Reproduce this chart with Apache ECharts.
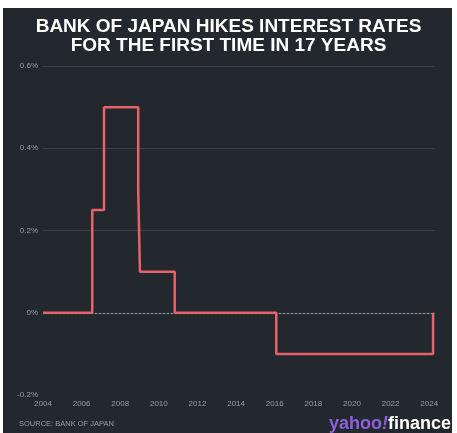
<!DOCTYPE html>
<html><head><meta charset="utf-8">
<script src="https://cdn.jsdelivr.net/npm/echarts@6/dist/echarts.min.js"></script>
<style>html,body{margin:0;padding:0;background:#fff}#c{width:457px;height:433px}</style>
</head><body><div id="c"></div>
<script>
// Rate change dates (decimal years) and new policy rate (%)
const changeDates = [2004.0, 2006.55, 2007.16, 2008.93, 2009.02, 2010.82, 2016.08, 2024.2];
const rates       = [0,      0.25,    0.5,     0.3,     0.1,     0,       -0.1,    0];
const yTicks = [-0.2, 0, 0.2, 0.4, 0.6];
const xTickYears = [2004, 2006, 2008, 2010, 2012, 2014, 2016, 2018, 2020, 2022, 2024];
const titleLines = ['BANK OF JAPAN HIKES INTEREST RATES', 'FOR THE FIRST TIME IN 17 YEARS'];
const sourceText = 'SOURCE: BANK OF JAPAN';

const data = changeDates.map((d, i) => [d, rates[i]]);
const chart = echarts.init(document.getElementById('c'), null, {renderer: 'canvas'});
const gridCol = '#3a3f48';
const logoFont = 'bold 18px "Liberation Sans", Arial, sans-serif';
chart.setOption({
  backgroundColor: '#ffffff',
  animation: false,
  graphic: [
    {type: 'rect', shape: {x: 3, y: 8, width: 449, height: 425}, style: {fill: '#23272e'}, z: -10},
    {type: 'text', left: 'center', top: 17, style: {text: titleLines.join('\n'), fill: '#ffffff', font: 'bold 19px "Liberation Sans", Arial, sans-serif', textAlign: 'center', lineHeight: 19.5}},
    {type: 'text', left: 19, top: 420, style: {text: sourceText, fill: '#9a9ea6', font: '7.5px "Liberation Sans", Arial, sans-serif'}},
    {type: 'text', right: 6, top: 415, style: {
      text: '{y|yahoo}{b|!}{f|finance}',
      rich: {
        y: {fill: '#8c62dc', font: logoFont},
        b: {fill: '#8c62dc', font: 'italic ' + logoFont},
        f: {fill: '#ffffff', font: logoFont}
      }}}
  ],
  grid: {left: 43, right: 22, top: 66, bottom: 38, containLabel: false},
  xAxis: {
    type: 'value', min: 2004, max: 2024.3, interval: 2,
    axisLine: {show: true, lineStyle: {color: '#4a4f58', width: 1}},
    axisTick: {show: false},
    splitLine: {show: false},
    axisLabel: {color: '#9a9ea6', fontSize: 8, fontFamily: 'Liberation Sans', margin: 5,
      showMaxLabel: false,
      formatter: v => xTickYears.includes(Math.round(v)) ? String(Math.round(v)) : ''}
  },
  yAxis: {
    type: 'value', min: -0.2, max: 0.6, interval: 0.2,
    axisLine: {show: false}, axisTick: {show: false},
    splitLine: {show: true, lineStyle: {color: ['transparent', 'transparent', gridCol, gridCol, gridCol], width: 1}},
    axisLabel: {color: '#9a9ea6', fontSize: 8, fontFamily: 'Liberation Sans', margin: 5,
      formatter: v => {const r = Math.round(v * 10) / 10; return (r === 0 ? '0' : r.toFixed(1)) + '%';}}
  },
  series: [
    {type: 'line', data: [], z: 1, silent: true,
      markLine: {symbol: 'none', silent: true, label: {show: false},
        lineStyle: {color: '#8a8f98', type: [2, 2], width: 1.2},
        data: [{yAxis: 0}]}},
    {type: 'line', data: data, step: 'end', showSymbol: false, z: 5,
      lineStyle: {color: '#e8626a', width: 2.5}}
  ]
});
</script></body></html>
